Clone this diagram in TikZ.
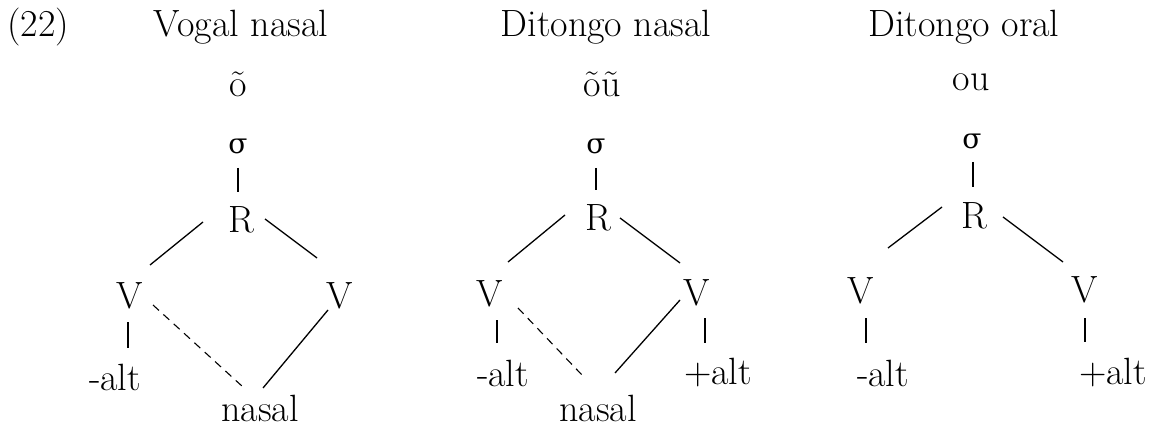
\documentclass[tikz,border=0pt]{standalone}
\usepackage{fontspec}
\newfontfamily\grk{DejaVu Serif}
\usetikzlibrary{calc}
\begin{document}
\begin{tikzpicture}[x=1pt,y=-1pt,
  lab/.style={inner sep=0pt,font=\fontsize{38}{44}\selectfont},
  sig/.style={inner sep=0pt,font=\fontsize{28}{34}\selectfont\grk},
  conn/.style={line width=1.3pt},
  dconn/.style={line width=1.1pt,dash pattern=on 8pt off 6pt}]
\useasboundingbox (0,0) rectangle (1153,430);
% panel 1
\node[lab] (num) at (38,27) {(22)};
\node[lab] (t1) at (241,27) {Vogal nasal};
\node[lab] (w1) at (238,84) {õ};
\node[sig] (s1) at (238,146) {σ};
\node[lab] (r1) at (241,220) {R};
\node[lab] (v1l) at (130,296) {V};
\node[lab] (v1r) at (340,296) {V};
\node[lab] (a1l) at (115,377) {-alt};
\node[lab] (n1) at (260,408) {nasal};
\draw[conn] ($(s1)+(0,22)$) -- ($(r1)+(-3,-28)$);
\draw[conn] ($(r1)+(-38,2)$) -- ($(v1l)+(20,-31)$);
\draw[conn] ($(r1)+(24,-1)$) -- ($(v1r)+(-23,-38)$);
\draw[conn] ($(v1l)+(-2,26)$) -- ($(a1l)+(13,-29)$);
\draw[dconn] ($(v1l)+(23,9)$) -- ($(n1)+(-17,-21)$);
\draw[conn] ($(v1r)+(-12,14)$) -- ($(n1)+(3,-20)$);
% panel 2
\node[lab] (t2) at (606,27) {Ditongo nasal};
\node[lab] (w2) at (602,84) {õũ};
\node[sig] (s2) at (596,146) {σ};
\node[lab] (r2) at (598,218) {R};
\node[lab] (v2l) at (490,294) {V};
\node[lab] (v2r) at (697,293) {V};
\node[lab] (a2l) at (503,373) {-alt};
\node[lab] (a2r) at (718,373) {+alt};
\node[lab] (n2) at (598,408) {nasal};
\draw[conn] ($(s2)+(0,22)$) -- ($(r2)+(-2,-28)$);
\draw[conn] ($(r2)+(-33,-3)$) -- ($(v2l)+(18,-32)$);
\draw[conn] ($(r2)+(22,0)$) -- ($(v2r)+(-17,-30)$);
\draw[conn] ($(v2l)+(7,26)$) -- ($(a2l)+(-6,-30)$);
\draw[conn] ($(v2r)+(8,25)$) -- ($(a2r)+(-13,-30)$);
\draw[dconn] ($(v2l)+(28,14)$) -- ($(n2)+(-16,-33)$);
\draw[conn] ($(v2r)+(-17,7)$) -- ($(n2)+(17,-35)$);
% panel 3
\node[lab] (t3) at (964,27) {Ditongo oral};
\node[lab] (w3) at (971,82) {ou};
\node[sig] (s3) at (972,141) {σ};
\node[lab] (r3) at (974,216) {R};
\node[lab] (v3l) at (861,291) {V};
\node[lab] (v3r) at (1085,290) {V};
\node[lab] (a3l) at (883,373) {-alt};
\node[lab] (a3r) at (1113,373) {+alt};
\draw[conn] ($(s3)+(1,21)$) -- ($(r3)+(-1,-29)$);
\draw[conn] ($(r3)+(-32,-9)$) -- ($(v3l)+(27,-43)$);
\draw[conn] ($(r3)+(29,1)$) -- ($(v3r)+(-22,-28)$);
\draw[conn] ($(v3l)+(5,27)$) -- ($(a3l)+(-17,-30)$);
\draw[conn] ($(v3r)+(0,28)$) -- ($(a3r)+(-28,-31)$);
\end{tikzpicture}
\end{document}
